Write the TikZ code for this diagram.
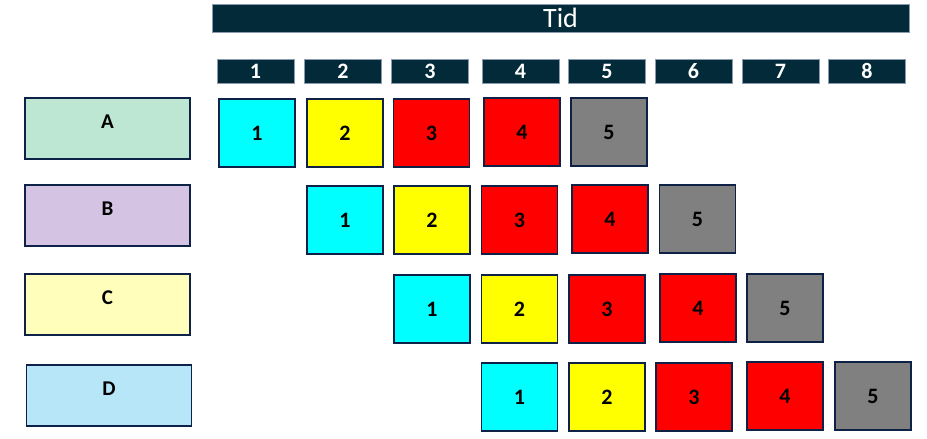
\documentclass[tikz,border=0pt]{standalone}
\usepackage{fontspec}
\setmainfont{Carlito}
\definecolor{navy}{HTML}{0E2147}
\definecolor{hdr}{HTML}{022A38}
\definecolor{hdrline}{HTML}{8A9BB0}
\definecolor{labA}{HTML}{BDE7D3}
\definecolor{labB}{HTML}{D5C3E3}
\definecolor{labC}{HTML}{FFFFBB}
\definecolor{labD}{HTML}{B6E6F8}
\definecolor{cc}{HTML}{00FFFF}
\definecolor{cy}{HTML}{FFFF00}
\definecolor{cr}{HTML}{FF0000}
\definecolor{cg}{HTML}{808080}
\begin{document}
\begin{tikzpicture}[x=1pt,y=-1pt,
 hdrbar/.style={fill=hdr, draw=hdrline, line width=0.6pt, inner sep=0pt, outer sep=0pt, text=white},
 colhdr/.style={hdrbar, minimum width=77pt, minimum height=24pt, font=\bfseries\fontsize{22}{22}\selectfont},
 cell/.style={draw=navy, line width=1.3pt, minimum width=76pt, minimum height=68pt, inner sep=0pt, font=\bfseries\fontsize{22}{22}\selectfont},
 rowlab/.style={draw=navy, line width=1.3pt, minimum width=165pt, minimum height=61pt, inner sep=0pt},
 labtxt/.style={font=\bfseries\fontsize{21}{21}\selectfont, yshift=6.5pt}]
\useasboundingbox (0,0) rectangle (927,439);
\node[hdrbar, minimum width=697pt, minimum height=28pt, font=\fontsize{28}{28}\selectfont] (tid) at (560.5,18) {Tid};
\foreach \n/\x in {1/255.5,2/343,3/430,4/520.5,5/607,6/693.5,7/780.5,8/867}
  \node[colhdr] (h\n) at (\x,71) {\n};
% row labels
\node[rowlab, fill=labA, label={[labtxt]center:A}] (rA) at (107.5,128.5) {};
\node[rowlab, fill=labB, label={[labtxt]center:B}] (rB) at (107.5,215.5) {};
\node[rowlab, fill=labC, label={[labtxt]center:C}] (rC) at (107.5,304.5) {};
\node[rowlab, fill=labD, label={[labtxt]center:D}] (rD) at (109,395.5) {};
% row A
\node[cell, fill=cc] (a1) at (257,133) {1};
\node[cell, fill=cy] (a2) at (345,133) {2};
\node[cell, fill=cr] (a3) at (431.5,133) {3};
\node[cell, fill=cr] (a4) at (522,132) {4};
\node[cell, fill=cg] (a5) at (609,132) {5};
% row B
\node[cell, fill=cc] (b1) at (345,220) {1};
\node[cell, fill=cy] (b2) at (432,220) {2};
\node[cell, fill=cr] (b3) at (519.5,220) {3};
\node[cell, fill=cr] (b4) at (610,219) {4};
\node[cell, fill=cg] (b5) at (697.5,219) {5};
% row C
\node[cell, fill=cc] (c1) at (432,309) {1};
\node[cell, fill=cy] (c2) at (519.5,309) {2};
\node[cell, fill=cr] (c3) at (607,309) {3};
\node[cell, fill=cr] (c4) at (698,308) {4};
\node[cell, fill=cg] (c5) at (785,308) {5};
% row D
\node[cell, fill=cc] (d1) at (519.5,397) {1};
\node[cell, fill=cy] (d2) at (607,397) {2};
\node[cell, fill=cr] (d3) at (694,397) {3};
\node[cell, fill=cr] (d4) at (785,396) {4};
\node[cell, fill=cg] (d5) at (873,396) {5};
\end{tikzpicture}
\end{document}
